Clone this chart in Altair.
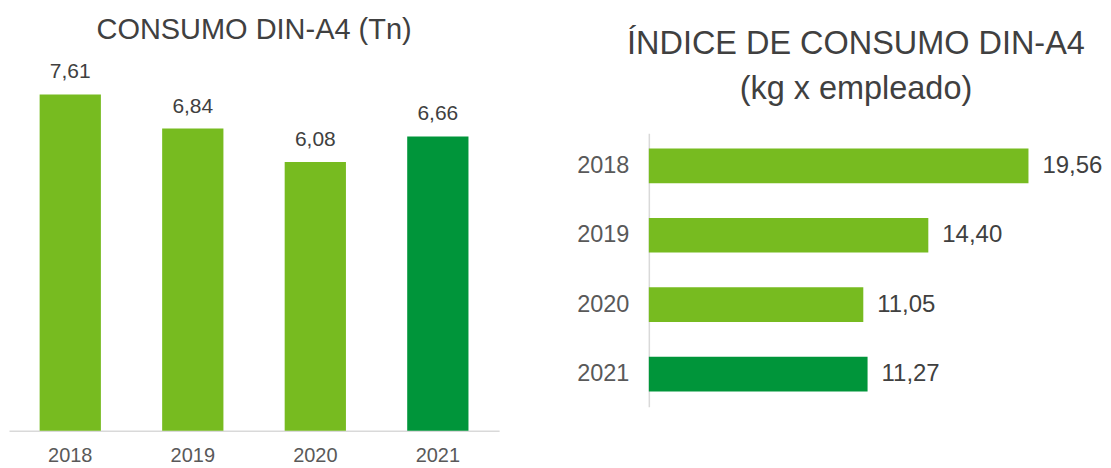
import altair as alt
import pandas as pd

FONT = "Liberation Sans"
LIGHT = "#77BB20"
DARK = "#00953A"
TXT = "#404040"
AX = "#595959"

years = ["2018", "2019", "2020", "2021"]
consumo_tn = [7.61, 6.84, 6.08, 6.66]
indice_kg = [19.56, 14.40, 11.05, 11.27]
highlight = ["no", "no", "no", "yes"]

df = pd.DataFrame({
    "year": years,
    "tn": consumo_tn,
    "tn_label": [f"{v:.2f}".replace(".", ",") for v in consumo_tn],
    "kg": indice_kg,
    "kg_label": [f"{v:.2f}".replace(".", ",") for v in indice_kg],
    "hl": highlight,
})

color = alt.Color("hl:N", scale=alt.Scale(domain=["no", "yes"], range=[LIGHT, DARK]), legend=None)

# Left panel: vertical bars
xL = alt.X("year:N", sort=years,
           scale=alt.Scale(paddingInner=0.5, paddingOuter=0.25),
           axis=alt.Axis(title=None, labelAngle=0, ticks=False, domainColor="#D9D9D9",
                         domainWidth=1.5, labelFontSize=20, labelColor=AX,
                         labelPadding=15, labelFont=FONT))
yL = alt.Y("tn:Q", scale=alt.Scale(domain=[0, 8.36], nice=False), axis=None)
baseL = alt.Chart(df)
barsL = baseL.mark_bar().encode(x=xL, y=yL, color=color)
textL = baseL.mark_text(baseline="bottom", dy=-12, fontSize=21, color=TXT, font=FONT).encode(
    x=xL, y=yL, text="tn_label:N")
left = (barsL + textL).properties(
    width=491, height=370,
    title=alt.TitleParams("CONSUMO DIN-A4 (Tn)", fontSize=29, font=FONT, color=TXT,
                          fontWeight="normal", offset=16, anchor="middle"))

# Right panel: horizontal bars
yR = alt.Y("year:N", sort=years,
           scale=alt.Scale(range=[72, 346], paddingInner=0.5, paddingOuter=0.22),
           axis=alt.Axis(title=None, ticks=False, domainColor="#D9D9D9", domainWidth=1.5,
                         labelFontSize=23.5, labelColor=AX, labelPadding=20, labelFont=FONT))
xR = alt.X("kg:Q", scale=alt.Scale(domain=[0, 23.4], nice=False), axis=None)
baseR = alt.Chart(df)
barsR = baseR.mark_bar().encode(x=xR, y=yR, color=color)
textR = baseR.mark_text(align="left", baseline="middle", dx=14, fontSize=24, color=TXT, font=FONT).encode(
    x=xR, y=yR, text="kg_label:N")
right = (barsR + textR).properties(
    width=455, height=370,
    title=alt.TitleParams(["ÍNDICE DE CONSUMO DIN-A4", "(kg x empleado)"], fontSize=32.5,
                          lineHeight=45, font=FONT, color=TXT, fontWeight="normal",
                          offset=-44, frame="group", dx=-20, anchor="middle"))

chart = alt.hconcat(left, right, spacing=77).configure_view(strokeWidth=0).properties(
    padding={"left": 1, "top": 8, "right": 0, "bottom": 0})

chart.save("out.html", embed_options={"renderer": "svg", "actions": False})
